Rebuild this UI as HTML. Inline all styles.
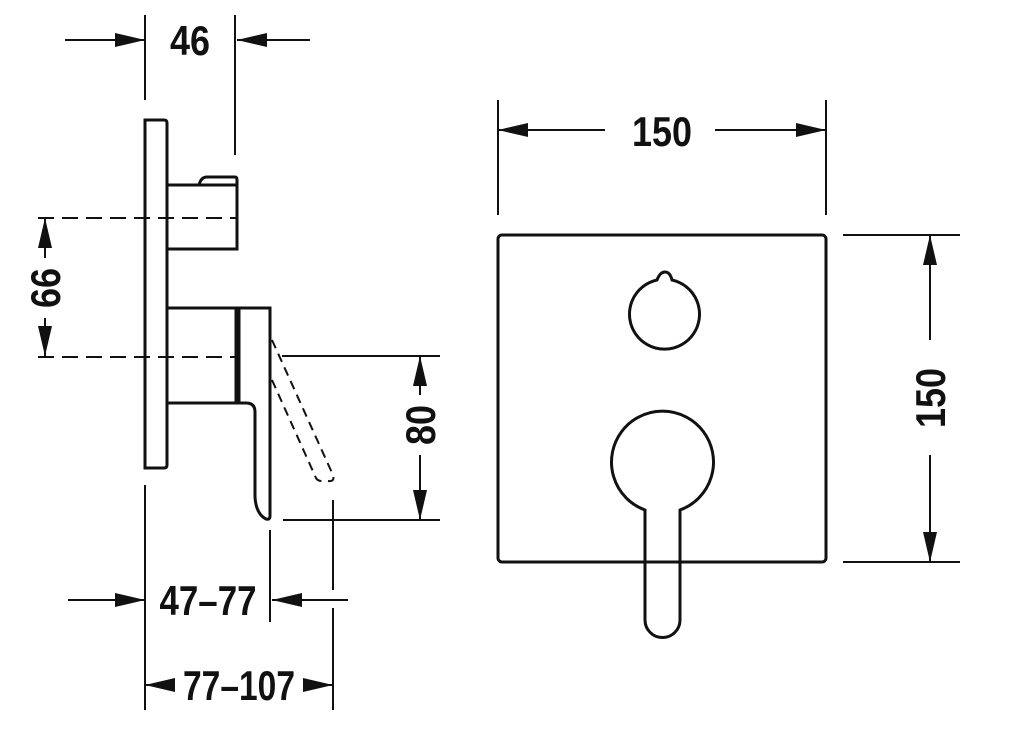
<!DOCTYPE html>
<html><head><meta charset="utf-8"><style>
html,body{margin:0;padding:0;background:#fff}
svg{display:block}
text{font-family:"Liberation Sans",sans-serif;font-weight:bold;font-size:42px;fill:#111}
</style></head><body>
<svg width="1024" height="752" viewBox="0 0 1024 752" xmlns="http://www.w3.org/2000/svg">
<defs>
<marker id="a" viewBox="0 0 10 10" refX="10" refY="5" markerWidth="30" markerHeight="14" markerUnits="userSpaceOnUse" orient="auto-start-reverse" preserveAspectRatio="none">
<path d="M0,0 L10,5 L0,10 z" fill="#111"/></marker>
</defs>
<g stroke="#111" stroke-width="2" fill="none">
<!-- side view -->
<path d="M145,120 H164 Q167,120 167,123 V465 Q167,468 164,468 H145 Z" stroke-width="3"/>
<path d="M168,185 H199 Q201,177 207,177 H235 Q237,177 237,180 V249 H168" stroke-width="3"/>
<path d="M198,185 H237" stroke-width="3"/>
<path d="M168,308 H236 V403 H168" stroke-width="3"/>
<path d="M239,308 H270 V516 Q270,520 266,519 Q256,514 255,497 V412 Q255,403 246,403 H239 Z" stroke-width="3"/>
<path d="M272,340 L333,475 Q335,482 328,481" stroke-dasharray="9,6"/>
<path d="M272,380 L316,478 Q318,482 326,481" stroke-dasharray="9,6"/>
<path d="M38,218 H237" stroke-dasharray="16,8"/>
<path d="M38,357 H236" stroke-dasharray="16,8"/>
<!-- ext lines -->
<path d="M145,15 V100 M235,15 V155"/>
<path d="M282,356 H440 M283,520 H440"/>
<path d="M145,485 V710 M270,530 V622 M333,500 V590 M333,608 V710"/>
<!-- dims -->
<path d="M65,40 H145" marker-end="url(#a)"/>
<path d="M310,40 H237" marker-end="url(#a)"/>
<path d="M45,258 V218" marker-end="url(#a)"/>
<path d="M45,318 V356" marker-end="url(#a)"/>
<path d="M420,395 V356" marker-end="url(#a)"/>
<path d="M420,455 V520" marker-end="url(#a)"/>
<path d="M68,600 H145" marker-end="url(#a)"/>
<path d="M348,600 H272" marker-end="url(#a)"/>
<path d="M175,685 H145" marker-end="url(#a)"/>
<path d="M303,685 H333" marker-end="url(#a)"/>
<!-- front view -->
<rect x="498" y="235" width="328" height="327" rx="4" stroke-width="3"/>
<path d="M657,280 Q660,272 665,272 Q670,272 672,280 A35,35 0 1 1 657,280 Z" stroke-width="3"/>
<path d="M645,510 A51,51 0 1 1 680,510 V620 A17.5,17.5 0 0 1 645,620 Z" stroke-width="3"/>
<path d="M498,100 V215 M826,100 V215"/>
<path d="M605,130 H498" marker-end="url(#a)"/>
<path d="M715,130 H826" marker-end="url(#a)"/>
<path d="M843,235 H960 M843,562 H960"/>
<path d="M930,340 V235" marker-end="url(#a)"/>
<path d="M930,455 V562" marker-end="url(#a)"/>
</g>
<text x="190" y="55" text-anchor="middle" textLength="40" lengthAdjust="spacingAndGlyphs">46</text>
<text x="662" y="146" text-anchor="middle" textLength="60" lengthAdjust="spacingAndGlyphs">150</text>
<text x="208" y="615" text-anchor="middle" textLength="97" lengthAdjust="spacingAndGlyphs">47–77</text>
<text x="239" y="700" text-anchor="middle" textLength="112" lengthAdjust="spacingAndGlyphs">77–107</text>
<text transform="translate(60,288) rotate(-90)" text-anchor="middle" textLength="40" lengthAdjust="spacingAndGlyphs">66</text>
<text transform="translate(435,425) rotate(-90)" text-anchor="middle" textLength="40" lengthAdjust="spacingAndGlyphs">80</text>
<text transform="translate(945,398) rotate(-90)" text-anchor="middle" textLength="60" lengthAdjust="spacingAndGlyphs">150</text>
</svg>
</body></html>
